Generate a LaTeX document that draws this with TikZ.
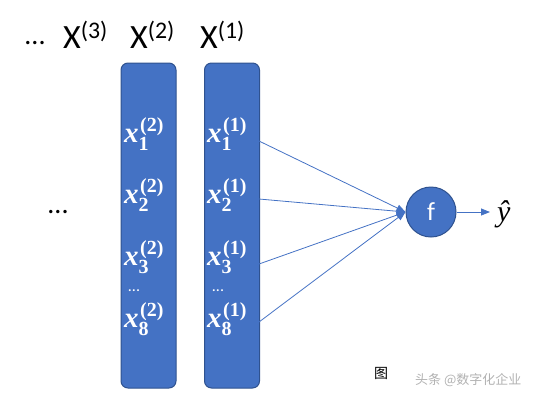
\documentclass[tikz,border=0pt]{standalone}
\usepackage{fontspec}
\setsansfont{Carlito}
\newfontfamily\serf{Liberation Serif}
\newfontfamily\cjk{Noto Sans CJK SC}
\usetikzlibrary{arrows.meta}
\definecolor{offblue}{HTML}{4472C4}
\definecolor{offedge}{HTML}{2F528F}
\tikzset{
  colbox/.style={draw=offedge, fill=offblue, line width=1pt, rounded corners=7pt, minimum width=55pt, minimum height=325pt, inner sep=0pt},
  xvar/.style={text=white, inner sep=0pt, anchor=base west, font=\serf\bfseries\itshape\fontsize{29}{29}\selectfont},
  xidx/.style={text=white, inner sep=0pt, anchor=base west, font=\serf\bfseries\fontsize{20}{20}\selectfont},
  hdr/.style={font=\sffamily\fontsize{34}{36}\selectfont, inner sep=0pt},
  conn/.style={draw=offblue, line width=0.8pt, -{Triangle[length=9pt,width=7pt]}},
}
\begin{document}
\begin{tikzpicture}[x=1pt,y=-1pt]
\useasboundingbox (0,0) rectangle (538,400);
% headers
\node[font=\sffamily\fontsize{28}{28}\selectfont, inner sep=0pt, anchor=base] (dots0) at (35,44) {...};
\node[hdr, anchor=base west] (X3) at (63,48) {X\textsuperscript{(3)}};
\node[hdr, anchor=base west] (X2) at (130,48) {X\textsuperscript{(2)}};
\node[hdr, anchor=base west] (X1) at (200,48) {X\textsuperscript{(1)}};
\node[font=\sffamily\fontsize{28}{28}\selectfont, inner sep=0pt, anchor=base] (dotsL) at (58,213) {...};
% columns
\node[colbox] (c2) at (148.5,225.5) {};
\node[colbox] (c1) at (232,225.5) {};
% elements
\foreach \i/\y in {1/142,2/203,3/265,8/327}{
  \node[xvar] (a\i) at (124,\y) {x};
  \node[xidx] (as\i) at (140,\y-11) {(2)};
  \node[xidx] (ai\i) at (138.5,\y+8) {\i};
  \node[xvar] (b\i) at (207,\y) {x};
  \node[xidx] (bs\i) at (223,\y-11) {(1)};
  \node[xidx] (bi\i) at (221.5,\y+8) {\i};
}
\node[text=white, font=\sffamily\fontsize{16}{16}\selectfont, inner sep=0pt, anchor=base] (ad) at (134,291) {...};
\node[text=white, font=\sffamily\fontsize{16}{16}\selectfont, inner sep=0pt, anchor=base] (bd) at (218,291) {...};
% f node
\node[circle, draw=offedge, fill=offblue, line width=1pt, minimum size=50pt, inner sep=0pt, text=white, font=\sffamily\fontsize{26}{26}\selectfont] (f) at (431,212) {f};
\node[inner sep=0pt, anchor=base west, font=\serf\itshape\fontsize{30}{30}\selectfont] (y) at (497,221) {\^y};
\coordinate (p1) at (259,141);
\coordinate (p2) at (259,199);
\coordinate (p3) at (259,264);
\coordinate (p4) at (259,322);
\foreach \k in {1,...,4}{\draw[conn] (p\k) -- (f.west);}
\draw[conn] (f.east) -- (490,212);
% watermark
\node[font=\cjk\fontsize{14}{14}\selectfont, anchor=west, inner sep=0pt] (wm1) at (374,373) {图};
\node[font=\cjk\fontsize{13}{13}\selectfont, text=gray!60, anchor=west, inner sep=0pt] (wm2) at (415,380) {头条 @数字化企业};
\end{tikzpicture}
\end{document}
